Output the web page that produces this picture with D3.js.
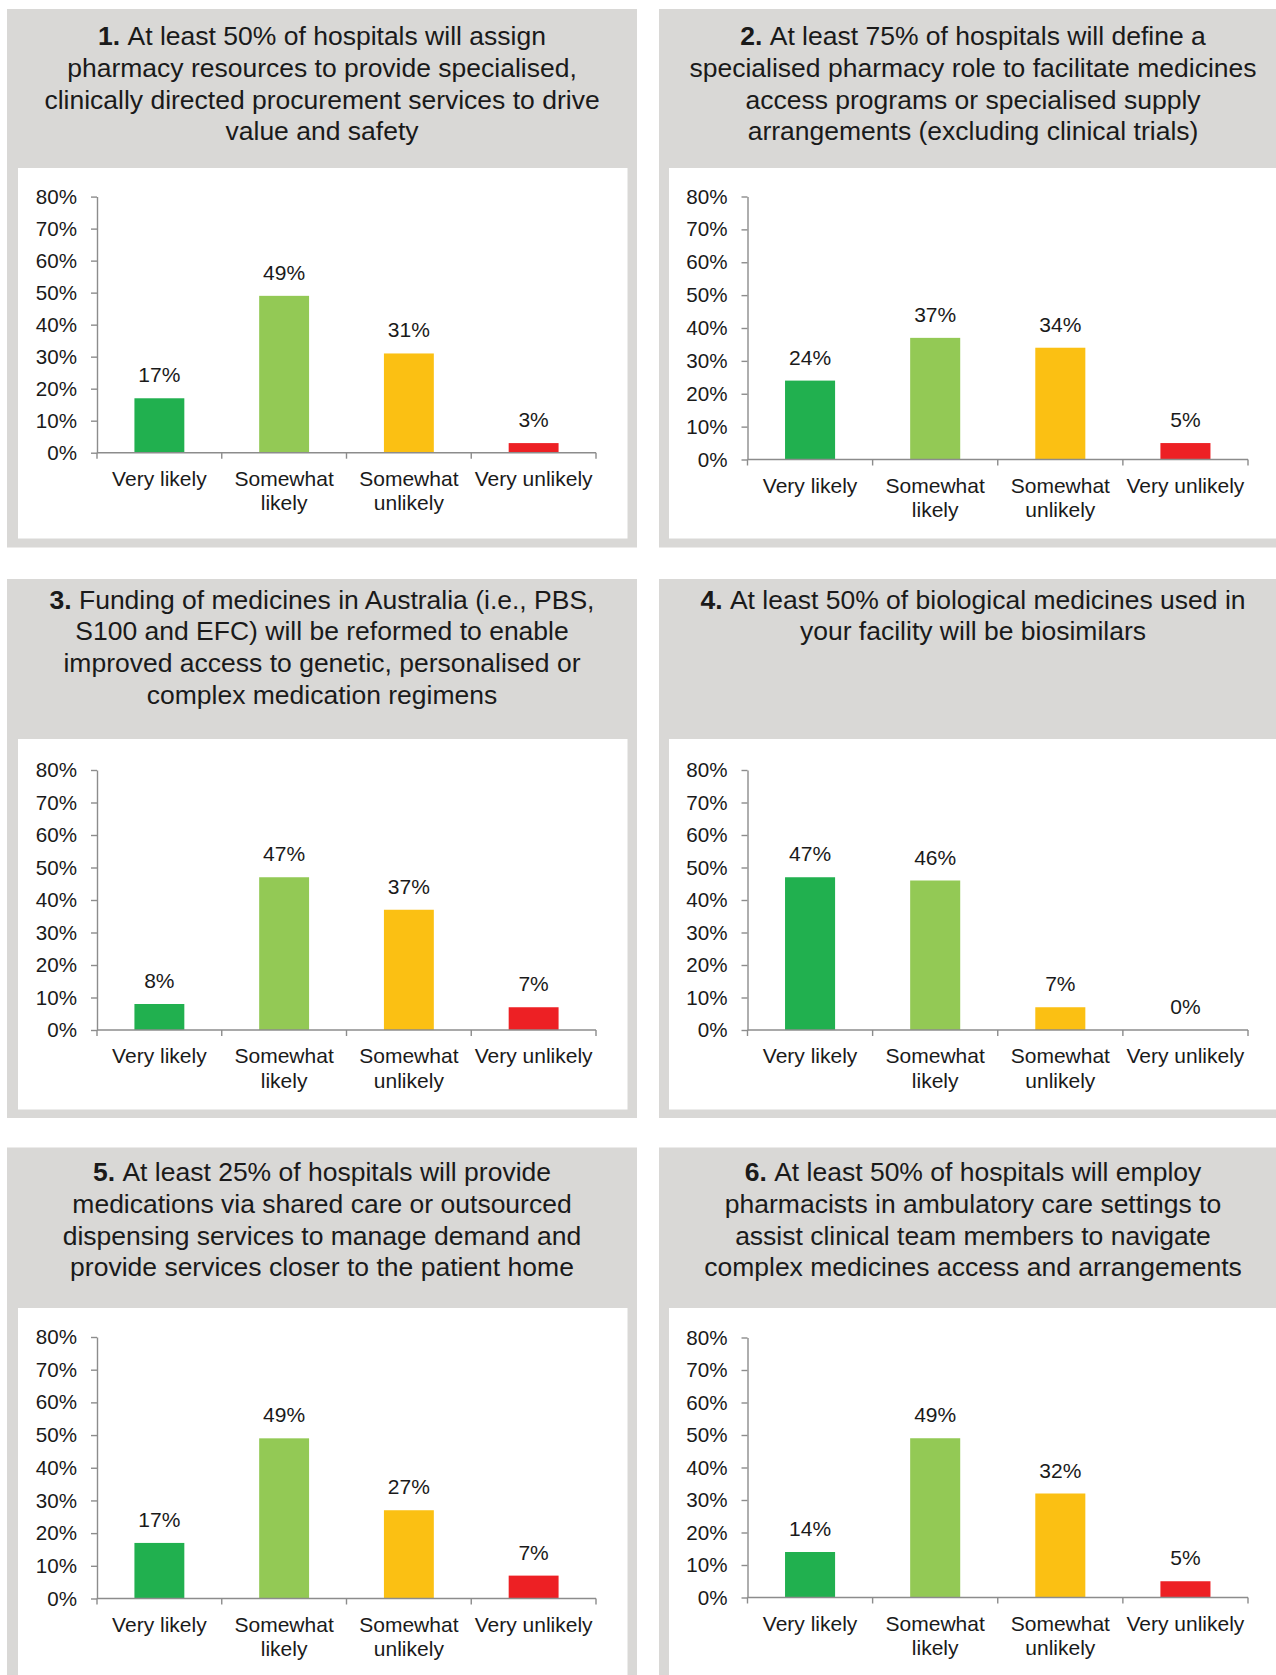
<!DOCTYPE html>
<html>
<head>
<meta charset="utf-8">
<script src="https://cdn.jsdelivr.net/npm/d3@7"></script>
<style>
  html, body { margin: 0; padding: 0; background: #ffffff; }
  svg { display: block; }
  text { font-family: "Liberation Sans", Arial, Helvetica, sans-serif; fill: #1a1a1a; }
</style>
</head>
<body>
<svg id="chart" width="1276" height="1675"></svg>
<script>
// ---------- data ----------
const categories = ["Very likely", "Somewhat likely", "Somewhat unlikely", "Very unlikely"];
const categoryLines = [["Very likely"], ["Somewhat", "likely"], ["Somewhat", "unlikely"], ["Very unlikely"]];
const barColors = ["#21b04f", "#93c955", "#fbc013", "#ed2024"];
const yTicks = [0, 10, 20, 30, 40, 50, 60, 70, 80];

const values1 = [17, 49, 31, 3];
const values2 = [24, 37, 34, 5];
const values3 = [8, 47, 37, 7];
const values4 = [47, 46, 7, 0];
const values5 = [17, 49, 27, 7];
const values6 = [14, 49, 32, 5];

const numbers = ["1.", "2.", "3.", "4.", "5.", "6."];
const titleLines1 = ["At least 50% of hospitals will assign", "pharmacy resources to provide specialised,", "clinically directed procurement services to drive", "value and safety"];
const titleLines2 = ["At least 75% of hospitals will define a", "specialised pharmacy role to facilitate medicines", "access programs or specialised supply", "arrangements (excluding clinical trials)"];
const titleLines3 = ["Funding of medicines in Australia (i.e., PBS,", "S100 and EFC) will be reformed to enable", "improved access to genetic, personalised or", "complex medication regimens"];
const titleLines4 = ["At least 50% of biological medicines used in", "your facility will be biosimilars"];
const titleLines5 = ["At least 25% of hospitals will provide", "medications via shared care or outsourced", "dispensing services to manage demand and", "provide services closer to the patient home"];
const titleLines6 = ["At least 50% of hospitals will employ", "pharmacists in ambulatory care settings to", "assist clinical team members to navigate", "complex medicines access and arrangements"];

const allValues = [values1, values2, values3, values4, values5, values6];
const allTitles = [titleLines1, titleLines2, titleLines3, titleLines4, titleLines5, titleLines6];

// ---------- layout ----------
const cols = [
  { gx0: 7, gx1: 637, wx0: 18, wx1: 627.5, ax0: 97, ax1: 596, tcx: 322 },
  { gx0: 659, gx1: 1276, wx0: 669, wx1: 1276, ax0: 747.5, ax1: 1248, tcx: 973 }
];
const rows = [
  { gy0: 9, gy1: 547.5, wy0: 168, wy1: 538.5, tb: 45, y80: [196.6, 196.5], y0: [452.7, 459.5] },
  { gy0: 579, gy1: 1118, wy0: 739, wy1: 1109.5, tb: 608.5, y80: [770, 770], y0: [1030, 1030] },
  { gy0: 1147.5, gy1: 1675, wy0: 1308, wy1: 1675, tb: 1181, y80: [1337, 1337.5], y0: [1598.5, 1597.5] }
];

const svg = d3.select("#chart");
const axisColor = "#8c8c8c";

allValues.forEach((vals, i) => {
  const c = cols[i % 2];
  const r = rows[Math.floor(i / 2)];
  const ci = i % 2;
  const g = svg.append("g");

  // panel backgrounds
  g.append("rect").attr("x", c.gx0).attr("y", r.gy0)
    .attr("width", c.gx1 - c.gx0).attr("height", r.gy1 - r.gy0).attr("fill", "#d9d8d6");
  g.append("rect").attr("x", c.wx0).attr("y", r.wy0)
    .attr("width", c.wx1 - c.wx0).attr("height", r.wy1 - r.wy0).attr("fill", "#ffffff");

  // title
  const title = g.append("text").attr("text-anchor", "middle").style("font-size", "26.5px");
  allTitles[i].forEach((line, li) => {
    const ts = title.append("tspan").attr("x", c.tcx).attr("y", r.tb + li * 31.8);
    if (li === 0) {
      ts.append("tspan").style("font-weight", "bold").text(numbers[i] + " ");
      ts.append("tspan").text(line);
    } else {
      ts.text(line);
    }
  });

  // scales
  const x = d3.scaleBand().domain(categories).range([c.ax0, c.ax1])
    .paddingInner(0.6).paddingOuter(0.3);
  const y = d3.scaleLinear().domain([0, 80]).range([r.y0[ci], r.y80[ci]]);
  const step = x.step();

  // y axis
  const yAxis = d3.axisLeft(y).tickValues(yTicks).tickFormat(d => d + "%")
    .tickSize(6).tickSizeOuter(0).tickPadding(14);
  const ya = g.append("g").attr("transform", `translate(${c.ax0},0)`).call(yAxis);
  ya.select(".domain").attr("stroke", axisColor).attr("stroke-width", 1.4);
  ya.selectAll(".tick line").attr("stroke", axisColor).attr("stroke-width", 1.4);
  ya.selectAll(".tick text").attr("fill", "#1a1a1a")
    .style("font-size", "20.6px").style("font-family", "'Liberation Sans', Arial, sans-serif");

  // bars
  g.selectAll("rect.bar").data(vals).enter().append("rect").attr("class", "bar")
    .attr("x", (d, k) => x(categories[k]))
    .attr("width", x.bandwidth())
    .attr("y", d => y(d))
    .attr("height", d => y(0) - y(d))
    .attr("fill", (d, k) => barColors[k]);

  // x axis line and boundary ticks
  g.append("line").attr("x1", c.ax0).attr("x2", c.ax1).attr("y1", y(0)).attr("y2", y(0))
    .attr("stroke", axisColor).attr("stroke-width", 1.6);
  const bounds = categories.map(cat => x(cat) - step * 0.3).concat([x(categories[3]) + x.bandwidth() + step * 0.3]);
  g.selectAll("line.xt").data(bounds).enter().append("line").attr("class", "xt")
    .attr("x1", d => d).attr("x2", d => d).attr("y1", y(0)).attr("y2", y(0) + 6)
    .attr("stroke", axisColor).attr("stroke-width", 1.4);

  // category labels
  categoryLines.forEach((lines, k) => {
    const t = g.append("text").attr("text-anchor", "middle").style("font-size", "21px");
    lines.forEach((ln, li) => {
      t.append("tspan").attr("x", x(categories[k]) + x.bandwidth() / 2)
        .attr("y", y(0) + 33 + li * 24.5).text(ln);
    });
  });

  // value labels
  g.selectAll("text.val").data(vals).enter().append("text").attr("class", "val")
    .attr("text-anchor", "middle").style("font-size", "21px")
    .attr("x", (d, k) => x(categories[k]) + x.bandwidth() / 2)
    .attr("y", d => y(d) - 16)
    .text(d => d + "%");
});
</script>
</body>
</html>
